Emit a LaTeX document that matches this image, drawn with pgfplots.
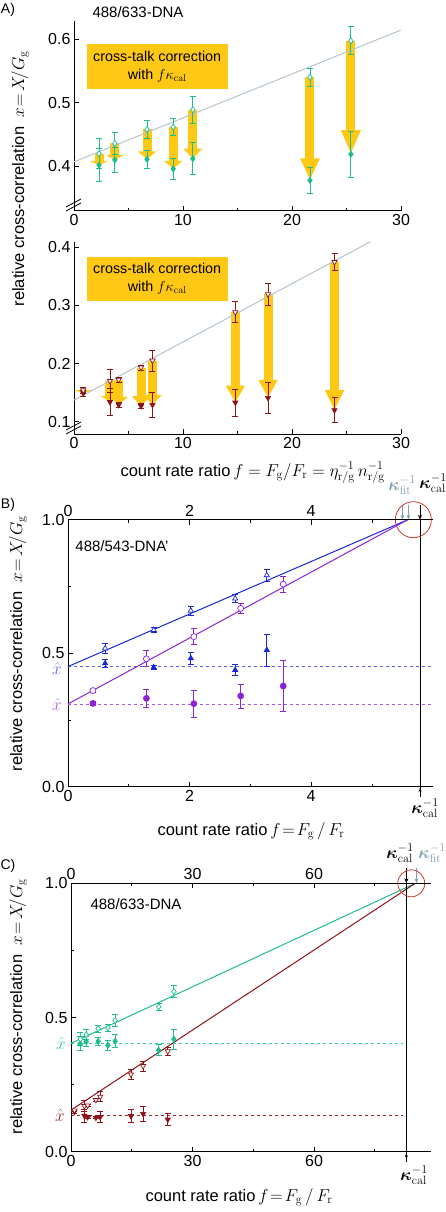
\documentclass[border=0pt]{standalone}
\usepackage[no-math]{fontspec}
\setmainfont{Liberation Sans}
\usepackage{bm}
\usepackage{pgfplots}
\usepackage{pgfplotstable}
\pgfplotsset{compat=1.18}
\usetikzlibrary{arrows.meta}

\definecolor{gr}{RGB}{30,190,140}
\definecolor{grd}{RGB}{60,205,160}
\definecolor{dr}{RGB}{140,20,25}
\definecolor{drd}{RGB}{150,40,40}
\definecolor{bl}{RGB}{25,40,215}
\definecolor{bld}{RGB}{90,100,235}
\definecolor{pu}{RGB}{140,35,215}
\definecolor{pud}{RGB}{165,90,225}
\definecolor{yel}{RGB}{255,200,20}
\definecolor{fitc}{RGB}{180,196,206}
\definecolor{kfit}{RGB}{130,160,172}
\definecolor{circ}{RGB}{200,60,50}

\pgfplotstableread{
x o eo c ec
2.3 0.420 0.024 0.402 0.026
3.75 0.436 0.018 0.410 0.019
6.7 0.458 0.014 0.411 0.014
9.1 0.462 0.013 0.396 0.017
10.9 0.489 0.021 0.412 0.025
21.65 0.540 0.014 0.378 0.020
25.4 0.597 0.022 0.419 0.036
}\datag
\pgfplotstableread{
x o eo c ec
0.85 0.154 0.005 0.149 0.005
3.3 0.170 0.020 0.134 0.023
4.1 0.172 0.004 0.129 0.004
6.15 0.193 0.004 0.127 0.004
7.2 0.205 0.018 0.129 0.021
14.8 0.288 0.018 0.133 0.023
17.8 0.319 0.019 0.141 0.027
23.9 0.374 0.015 0.120 0.021
}\datar
\pgfplotstableread{
x o eo c ec
0.61 0.518 0.018 0.462 0.014
1.41 0.587 0.010 0.447 0.008
2.02 0.659 0.016 0.481 0.022
2.75 0.705 0.015 0.437 0.020
3.27 0.792 0.022 0.512 0.060
}\datab
\pgfplotstableread{
x o eo c ec
0.41 0.360 0.006 0.312 0.006
1.29 0.479 0.030 0.331 0.033
2.07 0.562 0.030 0.311 0.050
2.84 0.668 0.020 0.340 0.045
3.54 0.759 0.030 0.377 0.095
}\datap

\tikzset{ya/.style={draw=yel, line width=9pt, -{Triangle[width=18pt,length=#1]}}}
\pgfplotsset{
  myax/.style={scale only axis, anchor=south west, clip=false,
    tick align=inside, major tick length=5pt, minor tick length=3pt,
    axis line style={-, line width=0.8pt, black},
    every tick/.style={black, line width=0.7pt},
    tick label style={font=\fontsize{16}{16}\selectfont},
    /pgf/number format/assume math mode=true,
    y tick label style={/pgf/number format/.cd, fixed, fixed zerofill, precision=1, /tikz/.cd}},
  eb/.style={error bars/.cd, y dir=both, y explicit,
    error bar style={#1, line width=0.8pt},
    error mark options={rotate=90, #1, mark size=3pt, line width=0.8pt}},
  openm/.style n args={3}{only marks, mark=#2, mark size=3pt, mark options={draw=#1, fill=white, line width=0.7pt, rotate=#3}},
  fullm/.style n args={3}{only marks, mark=#2, mark size=3pt, mark options={draw=#1, fill=#1, line width=0.7pt, rotate=#3}},
}

\begin{document}
\begin{tikzpicture}
% ---------------- Panel A top ----------------
\begin{axis}[myax, at={(74pt,-210.7pt)}, width=327pt, height=190pt,
  xmin=0, xmax=30, ymin=0.3303, ymax=0.6287,
  axis x line*=bottom, axis y line*=left,
  xtick={0,10,20,30}, minor xtick={5,15,25}, ytick={0.4,0.5,0.6}]
\addplot[ya=4pt] coordinates {(2.3,0.420) (2.3,0.402)};
\addplot[ya=5pt] coordinates {(3.75,0.436) (3.75,0.410)};
\addplot[ya=8pt] coordinates {(6.7,0.458) (6.7,0.411)};
\addplot[ya=8pt] coordinates {(9.1,0.462) (9.1,0.396)};
\addplot[ya=10pt] coordinates {(10.9,0.489) (10.9,0.412)};
\addplot[ya=22pt] coordinates {(21.65,0.540) (21.65,0.378)};
\addplot[ya=24pt] coordinates {(25.4,0.597) (25.4,0.419)};
\addplot[fitc, line width=1pt] coordinates {(0,0.407) (30,0.614)};
\addplot[fullm={gr}{diamond*}{0}, eb=gr] table[x=x, y=c, y error=ec] \datag;
\addplot[openm={gr}{diamond*}{0}, eb=gr] table[x=x, y=o, y error=eo] \datag;
\end{axis}
% ---------------- Panel A bottom ----------------
\begin{axis}[myax, at={(74pt,-434pt)}, width=327pt, height=192.3pt,
  xmin=0, xmax=30, ymin=0.079, ymax=0.409,
  axis x line*=bottom, axis y line*=left,
  xtick={0,10,20,30}, minor xtick={5,15,25}, ytick={0.1,0.2,0.3,0.4}]
\addplot[ya=3pt] coordinates {(0.85,0.154) (0.85,0.149)};
\addplot[ya=6pt] coordinates {(3.3,0.170) (3.3,0.134)};
\addplot[ya=8pt] coordinates {(4.1,0.172) (4.1,0.129)};
\addplot[ya=10pt] coordinates {(6.15,0.193) (6.15,0.127)};
\addplot[ya=10pt] coordinates {(7.2,0.205) (7.2,0.129)};
\addplot[ya=17pt] coordinates {(14.8,0.288) (14.8,0.133)};
\addplot[ya=18pt] coordinates {(17.8,0.319) (17.8,0.141)};
\addplot[ya=20pt] coordinates {(23.9,0.374) (23.9,0.120)};
\addplot[fitc, line width=1pt] coordinates {(0,0.137) (27.2,0.409)};
\addplot[fullm={dr}{triangle*}{180}, eb=dr] table[x=x, y=c, y error=ec] \datar;
\addplot[openm={dr}{triangle*}{180}, eb=dr] table[x=x, y=o, y error=eo] \datar;
\end{axis}
% boxes A
\fill[yel] (86.7pt,-44.3pt) rectangle (227.7pt,-89pt);
\node[align=center, font=\fontsize{14.3}{18}\selectfont] at (157.2pt,-66.6pt) {cross-talk correction\\ with $f\kappa_{\mathrm{cal}}$};
\fill[yel] (86.7pt,-256.7pt) rectangle (227.7pt,-301pt);
\node[align=center, font=\fontsize{14.3}{18}\selectfont] at (157.2pt,-278.8pt) {cross-talk correction\\ with $f\kappa_{\mathrm{cal}}$};
% axis breaks
\draw[line width=0.8pt] (66pt,-207pt) -- (81pt,-199pt);
\draw[line width=0.8pt] (66pt,-211pt) -- (81pt,-203pt);
\draw[line width=0.8pt] (66pt,-430pt) -- (81pt,-422pt);
\draw[line width=0.8pt] (66pt,-434pt) -- (81pt,-426pt);
% texts A
\node[font=\fontsize{14}{14}\selectfont] at (8pt,-10pt) {A)};
\node[font=\fontsize{15}{15}\selectfont] at (138pt,-12pt) {488/633-DNA};
\node[anchor=base west, font=\fontsize{16.5}{17}\selectfont] at (117pt,-476pt) {count rate ratio\,$f=F_{\mathrm{g}}/F_{\mathrm{r}}=\eta^{-1}_{\mathrm{r/g}}\,n^{-1}_{\mathrm{r/g}}$};
\node[rotate=90, anchor=base west, font=\fontsize{16.5}{17}\selectfont] at (24pt,-310pt) {relative cross-correlation\ \ $x\!=\!X\!/G_{\mathrm{g}}$};

% ---------------- Panel B ----------------
\begin{axis}[myax, at={(68pt,-786.7pt)}, width=364.8pt, height=267pt,
  xmin=0, xmax=6, ymin=0, ymax=1,
  axis x line*=bottom, axis y line*=left,
  xtick={0,2,4}, minor xtick={1,3,5}, ytick={0,0.5,1}, minor ytick={0.25,0.75}]
\addplot[bld, dashed, line width=0.8pt] coordinates {(0,0.449) (6,0.449)};
\addplot[pud, dashed, line width=0.8pt] coordinates {(0,0.31) (6,0.31)};
\addplot[bl, line width=1pt] coordinates {(0,0.45) (5.59,1.0)};
\addplot[pu, line width=1pt] coordinates {(0,0.31) (5.59,1.0)};
\addplot[black, line width=1pt] coordinates {(5.79,1.0) (5.79,-0.02)};
\addplot[fullm={bl}{triangle*}{0}, eb=bl] table[x=x, y=c, y error=ec] \datab;
\addplot[openm={bl}{triangle*}{0}, eb=bl] table[x=x, y=o, y error=eo] \datab;
\addplot[fullm={pu}{*}{0}, eb=pu] table[x=x, y=c, y error=ec] \datap;
\addplot[openm={pu}{*}{0}, eb=pu] table[x=x, y=o, y error=eo] \datap;
\draw[kfit, line width=0.8pt, -{Stealth[length=5pt,width=4pt]}] (axis cs:5.5,1.056) -- (axis cs:5.5,1.0);
\draw[kfit, line width=0.8pt, -{Stealth[length=5pt,width=4pt]}] (axis cs:5.6,1.056) -- (axis cs:5.6,1.0);
\draw[black, line width=0.8pt, -{Stealth[length=5pt,width=4pt]}] (axis cs:5.79,1.056) -- (axis cs:5.79,1.0);
\draw[black, line width=0.6pt, -{Stealth[length=4pt,width=3pt]}] (axis cs:5.79,-0.04) -- (axis cs:5.79,-0.005);
\draw[circ, line width=0.8pt] (axis cs:5.68,1.0) circle[radius=18pt];
\end{axis}
\begin{axis}[myax, at={(68pt,-786.7pt)}, width=364.8pt, height=267pt,
  xmin=0, xmax=6, ymin=0, ymax=1,
  axis x line*=top, axis y line=none,
  xtick={0,2,4}, minor xtick={1,3,5}, ytick=\empty]
\end{axis}
\node[font=\fontsize{14}{14}\selectfont] at (8pt,-505pt) {B)};
\node[font=\fontsize{15}{15}\selectfont] at (122pt,-546pt) {488/543-DNA'};
\node[text=bld, font=\fontsize{17}{17}\selectfont] at (57pt,-668pt) {$\hat{x}$};
\node[text=pud, font=\fontsize{17}{17}\selectfont] at (57pt,-704pt) {$\hat{x}$};
\node[text=kfit, font=\fontsize{18}{18}\selectfont] at (402pt,-485pt) {$\bm{\kappa}^{-1}_{\mathrm{fit}}$};
\node[font=\fontsize{18}{18}\selectfont] at (433pt,-483pt) {$\bm{\kappa}^{-1}_{\mathrm{cal}}$};
\node[font=\fontsize{18}{18}\selectfont] at (425pt,-808pt) {$\bm{\kappa}^{-1}_{\mathrm{cal}}$};
\node[anchor=base west, font=\fontsize{16.5}{17}\selectfont] at (154pt,-835pt) {count rate ratio\,$f\!=\!F_{\mathrm{g}}\,/\,F_{\mathrm{r}}$};
\node[rotate=90, anchor=base west, font=\fontsize{16.5}{17}\selectfont] at (22pt,-775pt) {relative cross-correlation\ \ $x\!=\!X\!/G_{\mathrm{g}}$};

% ---------------- Panel C ----------------
\begin{axis}[myax, at={(71pt,-1151.7pt)}, width=360.5pt, height=268.4pt,
  xmin=0, xmax=89, ymin=0, ymax=1,
  axis x line*=bottom, axis y line*=left,
  xtick={0,30,60}, minor xtick={15,45,75}, ytick={0,0.5,1}, minor ytick={0.25,0.75}]
\addplot[grd, dashed, line width=0.8pt] coordinates {(0,0.404) (82,0.404)};
\addplot[drd, dashed, line width=0.8pt] coordinates {(0,0.134) (82,0.134)};
\addplot[gr, line width=1pt] coordinates {(0,0.404) (85,1.0)};
\addplot[dr, line width=1pt] coordinates {(0,0.155) (85,1.0)};
\addplot[black, line width=1pt] coordinates {(82.8,1.0) (82.8,-0.02)};
\addplot[fullm={gr}{diamond*}{0}, eb=gr] table[x=x, y=c, y error=ec] \datag;
\addplot[openm={gr}{diamond*}{0}, eb=gr] table[x=x, y=o, y error=eo] \datag;
\addplot[fullm={dr}{triangle*}{180}, eb=dr] table[x=x, y=c, y error=ec] \datar;
\addplot[openm={dr}{triangle*}{180}, eb=dr] table[x=x, y=o, y error=eo] \datar;
\draw[black, line width=0.8pt, -{Stealth[length=5pt,width=4pt]}] (axis cs:82.8,1.056) -- (axis cs:82.8,1.0);
\draw[kfit, line width=0.8pt, -{Stealth[length=5pt,width=4pt]}] (axis cs:85.3,1.056) -- (axis cs:85.3,1.0);
\draw[black, line width=0.6pt, -{Stealth[length=4pt,width=3pt]}] (axis cs:82.8,-0.04) -- (axis cs:82.8,-0.005);
\draw[circ, line width=0.8pt] (axis cs:84,1.0) circle[radius=13.5pt];
\end{axis}
\begin{axis}[myax, at={(71pt,-1151.7pt)}, width=360.5pt, height=268.4pt,
  xmin=0, xmax=89, ymin=0, ymax=1,
  axis x line*=top, axis y line=none,
  xtick={0,30,60}, minor xtick={15,45,75}, ytick=\empty]
\end{axis}
\node[font=\fontsize{14}{14}\selectfont] at (8pt,-866pt) {C)};
\node[font=\fontsize{15}{15}\selectfont] at (136pt,-904pt) {488/633-DNA};
\node[text=grd, font=\fontsize{17}{17}\selectfont] at (61pt,-1043pt) {$\hat{x}$};
\node[text=drd, font=\fontsize{17}{17}\selectfont] at (60pt,-1115pt) {$\hat{x}$};
\node[font=\fontsize{18}{18}\selectfont] at (400pt,-853pt) {$\bm{\kappa}^{-1}_{\mathrm{cal}}$};
\node[text=kfit, font=\fontsize{18}{18}\selectfont] at (432pt,-853pt) {$\bm{\kappa}^{-1}_{\mathrm{fit}}$};
\node[font=\fontsize{18}{18}\selectfont] at (414pt,-1175pt) {$\bm{\kappa}^{-1}_{\mathrm{cal}}$};
\node[anchor=base west, font=\fontsize{16.5}{17}\selectfont] at (142pt,-1201pt) {count rate ratio\,$f\!=\!F_{\mathrm{g}}\,/\,F_{\mathrm{r}}$};
\node[rotate=90, anchor=base west, font=\fontsize{16.5}{17}\selectfont] at (22pt,-1138pt) {relative cross-correlation\ \ $x\!=\!X\!/G_{\mathrm{g}}$};

\pgfresetboundingbox
\path (0,0) rectangle (446pt,-1212pt);
\end{tikzpicture}
\end{document}
